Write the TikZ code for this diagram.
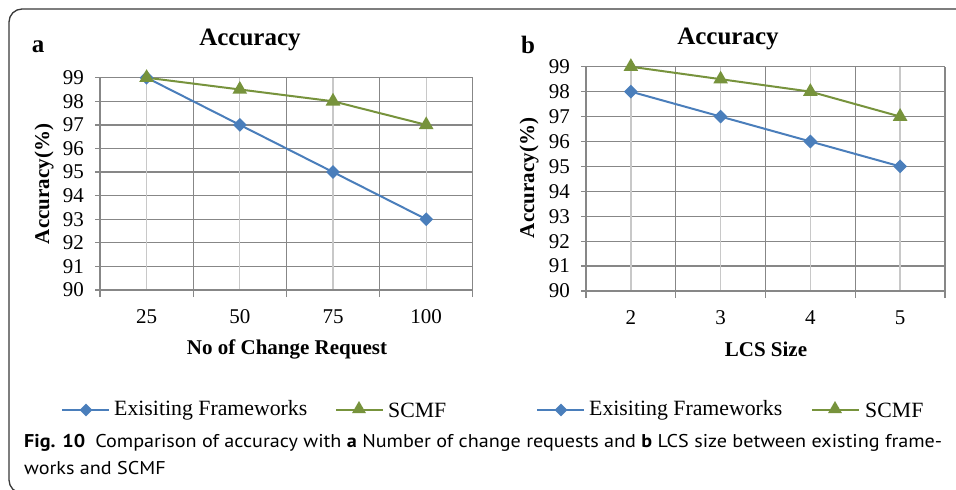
\documentclass[tikz,border=0pt]{standalone}
\usepackage{fontspec}
\setmainfont{Liberation Serif}
\newfontfamily\capfont{PT Sans}
\usetikzlibrary{shapes.geometric}

\definecolor{exblue}{HTML}{4A7EBB}
\definecolor{scgreen}{HTML}{77933C}
\definecolor{gridmaj}{HTML}{878787}
\definecolor{gridmin}{HTML}{C8C8C8}
\definecolor{framegray}{HTML}{3A3A3A}

\tikzset{
  gridmajor/.style={draw=gridmaj, line width=1.3pt},
  gridminor/.style={draw=gridmin, line width=1.3pt},
  axisline/.style={draw=gridmaj, line width=1.4pt},
  exline/.style={draw=exblue, line width=2pt},
  scline/.style={draw=scgreen, line width=2pt},
  exmark/.style={diamond, fill=exblue, draw=none, inner sep=0pt, minimum size=14pt},
  scmark/.style={regular polygon, regular polygon sides=3, fill=scgreen, draw=none, inner sep=0pt, minimum size=17pt},
  ticklbl/.style={inner sep=0pt, font=\fontsize{21}{24}\selectfont},
  axtitle/.style={inner sep=0pt, font=\fontsize{21}{24}\selectfont\bfseries},
  charttitle/.style={inner sep=0pt, font=\fontsize{25}{28}\selectfont\bfseries},
  panel/.style={inner sep=0pt, font=\fontsize{25}{28}\selectfont\bfseries},
  legtext/.style={inner sep=0pt, anchor=west, font=\fontsize{21.8}{24}\selectfont},
  captext/.style={inner sep=0pt, anchor=west},
}
\newcommand\capsize{\capfont\fontsize{18.5}{22}\selectfont}
\newcommand\capfirst{\textbf{Fig. 10}\enspace Comparison of accuracy with \textbf{a} Number of change requests and \textbf{b} LCS size between existing frame-}
\newsavebox\capbox

% #1 name prefix, #2 x of the value axis, #3 category width, #4 y of 90,
% #5 length of one percent, #6 category labels, #7 existing, #8 SCMF
\newcommand\accchart[8]{%
  \def\xz{#2}\def\cw{#3}\def\yb{#4}\def\uu{#5}%
  \foreach \v in {91,...,99}
    \draw[gridmajor] ({\xz-5},{\yb-\uu*(\v-90)}) -- ({\xz+4*\cw},{\yb-\uu*(\v-90)});
  \foreach \i in {0,...,3}
    \draw[gridminor] ({\xz+(\i+0.5)*\cw},{\yb}) -- ({\xz+(\i+0.5)*\cw},{\yb-9*\uu});
  \foreach \i in {1,...,4}
    \draw[gridmajor] ({\xz+\i*\cw},{\yb+7}) -- ({\xz+\i*\cw},{\yb-9*\uu});
  \draw[axisline] ({\xz},{\yb+7}) -- ({\xz},{\yb-9*\uu});
  \draw[axisline] ({\xz-5},{\yb}) -- ({\xz+4*\cw},{\yb});
  \foreach \v in {90,...,99}
    \node[ticklbl, anchor=east] (#1-y\v) at ({\xz-16},{\yb-\uu*(\v-90)}) {\v};
  \foreach \c [count=\i from 0] in {#6}
    \node[ticklbl] (#1-x\i) at ({\xz+(\i+0.5)*\cw},{\yb+27}) {\c};
  \foreach \v [count=\i from 0] in {#7}
    \coordinate (#1-e\i) at ({\xz+(\i+0.5)*\cw},{\yb-\uu*(\v-90)});
  \foreach \v [count=\i from 0] in {#8}
    \coordinate (#1-s\i) at ({\xz+(\i+0.5)*\cw},{\yb-\uu*(\v-90)});
  \draw[exline] (#1-e0) -- (#1-e1) -- (#1-e2) -- (#1-e3);
  \draw[scline] (#1-s0) -- (#1-s1) -- (#1-s2) -- (#1-s3);
  \foreach \i in {0,...,3} \node[exmark] (#1-em\i) at (#1-e\i) {};
  \foreach \i in {0,...,3} \node[scmark] (#1-sm\i) at (#1-s\i) {};
}

\begin{document}%
\sbox\capbox{\capsize\capfirst}%
\pgfmathsetmacro\capsx{918/\wd\capbox}%
\begin{tikzpicture}[x=1pt, y=-1pt]
\useasboundingbox (0,0) rectangle (956,490);
\fill[white] (0,0) rectangle (956,490);

% outer frame of the figure
\draw[framegray, line width=1.3pt, rounded corners=13pt] (60,493) -- (9,493) -- (9,9) -- (1000,9);

% panel a
\accchart{a}{100}{93.2}{290}{23.59}{25,50,75,100}{99,97,95,93}{99,98.5,98,97}
\node[charttitle] (a-title) at (250,40) {Accuracy};
\node[panel] (a-tag) at (38,47) {a};
\node[axtitle, rotate=90] (a-ytitle) at (44,184) {Accuracy(\%)};
\node[axtitle] (a-xtitle) at (287,349) {No of Change Request};

% panel b
\accchart{b}{586}{89.75}{291}{24.92}{2,3,4,5}{98,97,96,95}{99,98.5,98,97}
\node[charttitle] (b-title) at (728,39) {Accuracy};
\node[panel] (b-tag) at (528,45) {b};
\node[axtitle, rotate=90] (b-ytitle) at (529,178) {Accuracy(\%)};
\node[axtitle] (b-xtitle) at (766,349) {LCS Size};

% legends
\coordinate (la1) at (62,410); \coordinate (la2) at (109,410);
\draw[exline] (la1) -- (la2);
\node[exmark, minimum size=13pt] (la-m) at (86,410) {};
\node[legtext] (la-t) at (114,410) {Exisiting Frameworks};
\coordinate (lb1) at (336,410); \coordinate (lb2) at (383,410);
\draw[scline] (lb1) -- (lb2);
\node[scmark, minimum size=16pt] (lb-m) at (359,409) {};
\node[legtext] (lb-t) at (388,410) {SCMF};

\coordinate (lc1) at (537,410); \coordinate (lc2) at (584,410);
\draw[exline] (lc1) -- (lc2);
\node[exmark, minimum size=13pt] (lc-m) at (561,410) {};
\node[legtext] (lc-t) at (589,410) {Exisiting Frameworks};
\coordinate (ld1) at (812,410); \coordinate (ld2) at (859,410);
\draw[scline] (ld1) -- (ld2);
\node[scmark, minimum size=16pt] (ld-m) at (835,409) {};
\node[legtext] (ld-t) at (865,410) {SCMF};

% caption: the first line is stretched to the full text width
\node[captext] (cap1) at (24,443) {\scalebox{\capsx}[1]{\capsize\capfirst}};
\node[captext] (cap2) at (24,468) {\scalebox{\capsx}[1]{\capsize works and SCMF}};
\end{tikzpicture}
\end{document}
